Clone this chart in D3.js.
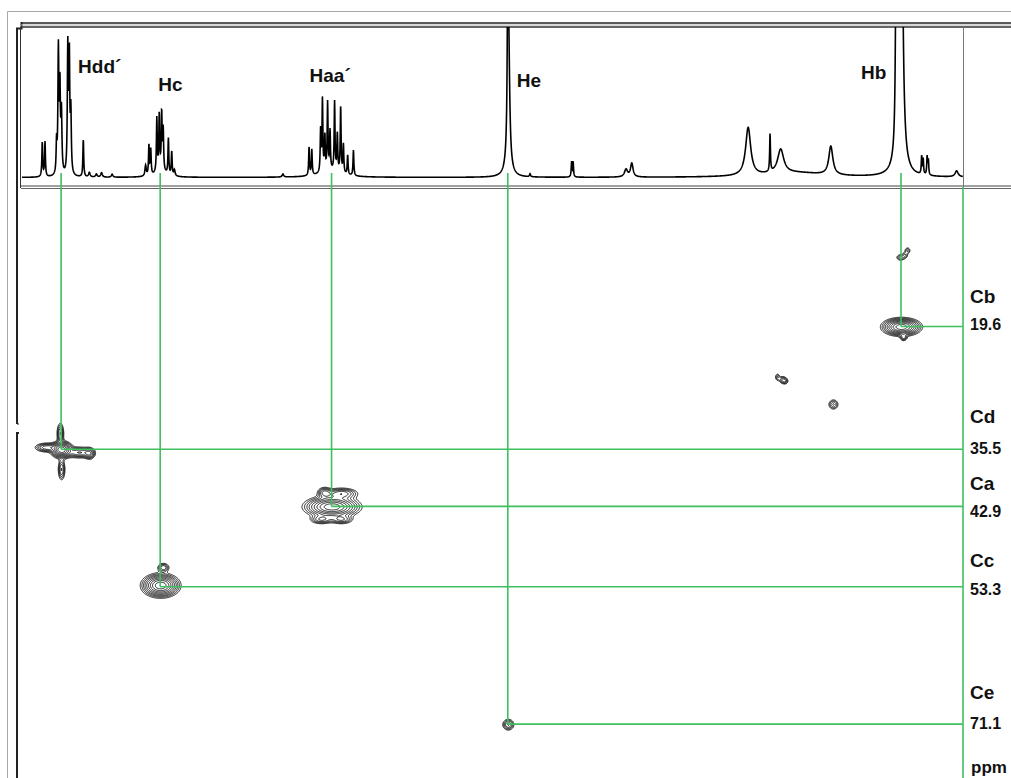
<!DOCTYPE html>
<html>
<head>
<meta charset="utf-8">
<script src="https://cdn.jsdelivr.net/npm/d3@7"></script>
<style>
  html, body { margin: 0; padding: 0; background: #fff; }
  svg { display: block; }
  text { font-family: "Liberation Sans", Arial, sans-serif; font-weight: bold; fill: #111; }
</style>
</head>
<body>
<svg id="chart" width="1011" height="778"></svg>
<script>
// ---------- 1H projection: resonance lines ----------
// chemical shift (ppm), relative height (1 = top of trace window), half-width (ppm)
const protonShift = [
  3.930, 3.921, 3.883, 3.877, 3.872, 3.867, 3.846, 3.841, 3.836, 3.795, 3.775, 3.752, 3.735, 3.700,
  3.590, 3.579, 3.573, 3.553, 3.545, 3.537, 3.532, 3.515, 3.504, 3.495, 3.540, 3.138,
  3.052, 3.043, 3.014, 3.008, 3.000, 2.991, 2.983, 2.968, 2.959, 2.948, 2.939, 2.925, 2.906, 2.980,
  2.398, 2.395, 2.397, 2.325, 2.188, 2.183, 2.009, 1.990,
  1.607, 1.535, 1.500, 1.335, 1.450,
  1.120, 1.114, 1.102, 1.108, 1.036, 1.031, 1.018, 1.014, 0.921
];
const protonHeight = [
  0.23, 0.23, 0.20, 0.82, 0.55, 0.40, 0.83, 0.76, 0.40, 0.25, 0.03, 0.02, 0.03, 0.02,
  0.07, 0.20, 0.17, 0.36, 0.37, 0.38, 0.27, 0.24, 0.16, 0.04, 0.04, 0.02,
  0.19, 0.17, 0.28, 0.48, 0.23, 0.45, 0.26, 0.46, 0.25, 0.44, 0.19, 0.13, 0.17, 0.04,
  1.10, 0.70, 0.10, 0.02, 0.10, 0.10, 0.05, 0.09,
  0.32, 0.25, 0.16, 0.19, 0.03,
  1.30, 0.50, 1.80, 0.25, 0.12, 0.10, 0.12, 0.10, 0.04
];
const protonWidth = [
  0.0016, 0.0016, 0.0016, 0.0018, 0.0018, 0.0020, 0.0018, 0.0018, 0.0018, 0.0016, 0.0030, 0.0030, 0.0030, 0.0030,
  0.0025, 0.0016, 0.0016, 0.0016, 0.0016, 0.0016, 0.0016, 0.0016, 0.0016, 0.0025, 0.0200, 0.0030,
  0.0016, 0.0016, 0.0016, 0.0016, 0.0016, 0.0016, 0.0016, 0.0016, 0.0016, 0.0016, 0.0016, 0.0016, 0.0016, 0.0400,
  0.0018, 0.0040, 0.0100, 0.0020, 0.0015, 0.0015, 0.0060, 0.0050,
  0.0100, 0.0015, 0.0120, 0.0080, 0.1200,
  0.0025, 0.0040, 0.0050, 0.0120, 0.0015, 0.0015, 0.0015, 0.0015, 0.0060
];

// ---------- HSQC cross peaks ----------
// 1H shift, 13C shift, relative intensity, widths (ppm) in each dimension
const crossH      = [1.104, 1.097, 1.107, 1.092, 1.084, 3.868, 3.918, 3.809, 3.776, 3.872, 3.868,
                     2.978, 2.947, 3.003, 3.013, 2.947, 3.542, 3.533, 2.398, 1.512, 1.496, 1.486, 1.328];
const crossC      = [19.6, 20.96, 10.60, 10.30, 9.70, 35.5, 35.21, 35.86, 36.0, 33.40, 38.06,
                     42.9, 41.17, 41.04, 44.53, 44.53, 53.08, 50.75, 71.1, 26.10, 26.45, 26.60, 29.64];
const crossAmp    = [1.0, 0.25, 0.20, 0.16, 0.18, 1.0, 0.38, 0.42, 0.32, 0.32, 0.32,
                     1.0, 0.38, 0.30, 0.30, 0.30, 1.0, 0.30, 0.32, 0.18, 0.22, 0.18, 0.24];
const crossWidthH = [0.0310, 0.0066, 0.0090, 0.0060, 0.0060, 0.0175, 0.0210, 0.0240, 0.0099, 0.0066, 0.0066,
                     0.0440, 0.0296, 0.0130, 0.0210, 0.0210, 0.0300, 0.0110, 0.0110, 0.0050, 0.0070, 0.0060, 0.0100];
const crossWidthC = [0.560, 0.26, 0.26, 0.26, 0.26, 0.540, 0.324, 0.388, 0.420, 0.800, 0.800,
                     0.680, 0.400, 0.400, 0.330, 0.330, 0.740, 0.330, 0.420, 0.30, 0.30, 0.26, 0.400];
const contourLevels = [0.08, 0.12, 0.17, 0.23, 0.31, 0.41, 0.53, 0.67, 0.84];

// ---------- assignments ----------
const protonLabels = ["Hdd´", "Hc", "Haa´", "He", "Hb"];
const protonAssign = [3.868, 3.542, 2.978, 2.398, 1.104];
const carbonLabels = ["Cb", "Cd", "Ca", "Cc", "Ce"];
const carbonValues = [19.6, 35.5, 42.9, 53.3, 71.1];
const carbonProton = [1.104, 3.868, 2.978, 3.542, 2.398];   // attached proton of each carbon
const carbonUnit = "ppm";

// ---------- layout ----------
const W = 1011, H = 778;
const box = { left: 21, right: 963, top: 27, bottom: 187 };
const baseY = 177.5;
const protonLabelDx = [17, -2, -22, 9, -40];
const protonLabelY  = [73, 91, 82, 87, 79];
const carbonNumDy   = [3.5, 4.7, 10.3, 8.3, 4.8];
const carbonLabDy   = [-23.5, -26.3, -16.4, -19.7, -25.2];
const green = "#3fbf5f";

const svg = d3.select("#chart");

const xH = d3.scaleLinear().domain([4.0, 0.9]).range([box.left, box.right]);
const yC = d3.scaleLinear().domain([0, 80]).range([175.1, 792.9]);
const yS = d3.scaleLinear().domain([0, 1]).range([baseY, box.top]);

// ---------- frame ----------
const frame = svg.append("g").attr("fill", "none");
frame.append("path").attr("d", "M7.5,778 V11.5 H1011").attr("stroke", "#a8a8a8").attr("stroke-width", 1);
frame.append("path").attr("d", "M17,424 V28.5 H21.5 V22").attr("stroke", "#222").attr("stroke-width", 2);
frame.append("path").attr("d", "M17,424 H19").attr("stroke", "#222").attr("stroke-width", 1);
frame.append("path").attr("d", "M19,433 H17 V778").attr("stroke", "#222").attr("stroke-width", 2);
frame.append("line").attr("x1", 21).attr("x2", W).attr("y1", 23).attr("y2", 23).attr("stroke", "#222").attr("stroke-width", 1.5);
frame.append("line").attr("x1", 21).attr("x2", W).attr("y1", 25).attr("y2", 25).attr("stroke", "#b0b0b0").attr("stroke-width", 1);
frame.append("line").attr("x1", 21).attr("x2", W).attr("y1", 27).attr("y2", 27).attr("stroke", "#333").attr("stroke-width", 1.5);
frame.append("line").attr("x1", 21).attr("x2", W).attr("y1", 186).attr("y2", 186).attr("stroke", "#444").attr("stroke-width", 1);
frame.append("line").attr("x1", 21).attr("x2", W).attr("y1", 188.5).attr("y2", 188.5).attr("stroke", "#666").attr("stroke-width", 1);
frame.append("line").attr("x1", 20.5).attr("x2", 20.5).attr("y1", 27).attr("y2", 188).attr("stroke", "#333").attr("stroke-width", 1);
frame.append("line").attr("x1", 963.5).attr("x2", 963.5).attr("y1", 27).attr("y2", 187).attr("stroke", "#777").attr("stroke-width", 1);

// ---------- 1H trace ----------
svg.append("defs").append("clipPath").attr("id", "traceClip")
  .append("rect").attr("x", box.left).attr("y", box.top).attr("width", box.right - box.left).attr("height", box.bottom - box.top - 3);

const trace = d3.range(box.left + 1, box.right, 0.2).map(px => {
  const p = xH.invert(px);
  let s = 0;
  for (let k = 0; k < protonShift.length; k++) {
    const g = protonWidth[k], d = p - protonShift[k];
    s += protonHeight[k] * g * g / (d * d + g * g);
  }
  return [p, s];
});
svg.append("path")
  .attr("clip-path", "url(#traceClip)")
  .attr("d", d3.line().x(d => xH(d[0])).y(d => yS(d[1]))(trace))
  .attr("fill", "none").attr("stroke", "#000").attr("stroke-width", 1.6).attr("stroke-linejoin", "miter");

// ---------- 2D contour map ----------
const gx0 = box.left, gy0 = 189, gw = box.right - box.left, gh = H - gy0;
const grid = new Float64Array(gw * gh);
crossH.forEach((h, k) => {
  const cx = xH(h) - gx0, cy = yC(crossC[k]) - gy0;
  const sx = Math.abs(xH(h + crossWidthH[k]) - xH(h));
  const sy = Math.abs(yC(crossC[k] + crossWidthC[k]) - yC(crossC[k]));
  const i0 = Math.max(0, Math.floor(cx - 4 * sx)), i1 = Math.min(gw - 1, Math.ceil(cx + 4 * sx));
  const j0 = Math.max(0, Math.floor(cy - 4 * sy)), j1 = Math.min(gh - 1, Math.ceil(cy + 4 * sy));
  for (let j = j0; j <= j1; j++) {
    const dy = (j - cy) / sy;
    for (let i = i0; i <= i1; i++) {
      const dx = (i - cx) / sx;
      grid[j * gw + i] += crossAmp[k] * Math.exp(-0.5 * (dx * dx + dy * dy));
    }
  }
});
const contours = d3.contours().size([gw, gh]).thresholds(contourLevels)(grid);
svg.append("g")
  .attr("transform", `translate(${gx0},${gy0})`)
  .selectAll("path").data(contours).join("path")
  .attr("d", d3.geoPath())
  .attr("fill", "none").attr("stroke", "#000").attr("stroke-width", 0.85);

// ---------- correlation guides ----------
const guides = svg.append("g").attr("stroke", green).attr("stroke-width", 1.6).attr("fill", "none");
guides.append("line").attr("x1", 963).attr("x2", 963).attr("y1", box.bottom).attr("y2", H);
carbonValues.forEach((c, k) => {
  const x = xH(carbonProton[k]), y = yC(c);
  guides.append("line").attr("x1", x).attr("x2", x).attr("y1", 173).attr("y2", y);
  guides.append("line").attr("x1", x).attr("x2", 963).attr("y1", y).attr("y2", y);
});

// ---------- labels ----------
svg.append("g").selectAll("text").data(protonLabels).join("text")
  .attr("x", (d, k) => xH(protonAssign[k]) + protonLabelDx[k])
  .attr("y", (d, k) => protonLabelY[k])
  .attr("font-size", 19)
  .text(d => d);

const right = svg.append("g");
carbonValues.forEach((c, k) => {
  right.append("text").attr("x", 970).attr("y", yC(c) + carbonLabDy[k]).attr("font-size", 19).text(carbonLabels[k]);
  right.append("text").attr("x", 970).attr("y", yC(c) + carbonNumDy[k]).attr("font-size", 16).text(d3.format(".1f")(c));
});
right.append("text").attr("x", 971).attr("y", 773).attr("font-size", 17).text(carbonUnit);
</script>
</body>
</html>
